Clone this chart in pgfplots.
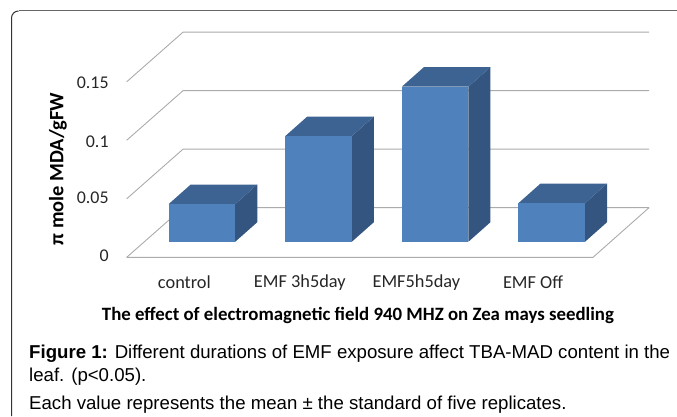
\documentclass[border=0pt]{standalone}
\usepackage{pgfplots}
\pgfplotsset{compat=1.18}
\usepackage{fontspec}
\setmainfont{Carlito}
\newfontfamily\capfont{Liberation Sans}
\definecolor{front}{HTML}{4F81BD}
\definecolor{topf}{HTML}{3D6392}
\definecolor{sidef}{HTML}{335580}
\definecolor{gridc}{HTML}{ABABAB}
\begin{document}
\begin{tikzpicture}[x=1bp,y=1bp]
\useasboundingbox (0,0) rectangle (677,416);
\draw[color=black!80,line width=1bp] (11.5,0) -- (11.5,398) arc[start angle=180,end angle=90,radius=7] ;
\draw[color=black!60,line width=1.4bp] (18.5,405.3) -- (677,405.3);
\begin{axis}[
  at={(126.7bp,158.7bp)},anchor=south west,
  scale only axis,width=522.3bp,height=225.6bp,
  xmin=-0.5,xmax=3.98,ymin=0,ymax=0.1928,
  axis lines=none,clip=false,
  every axis plot/.append style={forget plot},
]
% walls and floor
\addplot[gridc,line width=0.9bp] coordinates {(-0.5,0) (-0.017,0.0424) (3.98,0.0424)};
\addplot[gridc,line width=0.9bp] coordinates {(-0.5,0.05) (-0.017,0.0924) (3.98,0.0924)};
\addplot[gridc,line width=0.9bp] coordinates {(-0.5,0.1) (-0.017,0.1424) (3.98,0.1424)};
\addplot[gridc,line width=0.9bp] coordinates {(-0.5,0.15) (-0.017,0.1924) (3.98,0.1924)};
\addplot[gridc,line width=0.9bp] coordinates {(-0.5,0) (3.5,0) (3.98,0.0424)};
% control (front top 0.0455)
\addplot[draw=none,fill=sidef] coordinates {(0.431,0.0133) (0.62,0.03) (0.62,0.0622) (0.431,0.0455)} --cycle;
\addplot[draw=none,fill=topf] coordinates {(-0.14,0.0455) (0.049,0.0622) (0.62,0.0622) (0.431,0.0455)} --cycle;
\addplot[draw=none,fill=front] coordinates {(-0.14,0.0133) (0.431,0.0133) (0.431,0.0455) (-0.14,0.0455)} --cycle;
% EMF 3h5day (front top 0.1036)
\addplot[draw=none,fill=sidef] coordinates {(1.431,0.0133) (1.62,0.03) (1.62,0.1203) (1.431,0.1036)} --cycle;
\addplot[draw=none,fill=topf] coordinates {(0.86,0.1036) (1.049,0.1203) (1.62,0.1203) (1.431,0.1036)} --cycle;
\addplot[draw=none,fill=front] coordinates {(0.86,0.0133) (1.431,0.0133) (1.431,0.1036) (0.86,0.1036)} --cycle;
% EMF5h5day (front top 0.1458)
\addplot[draw=none,fill=sidef] coordinates {(2.431,0.0133) (2.62,0.03) (2.62,0.1625) (2.431,0.1458)} --cycle;
\addplot[draw=none,fill=topf] coordinates {(1.86,0.1458) (2.049,0.1625) (2.62,0.1625) (2.431,0.1458)} --cycle;
\addplot[draw=none,fill=front] coordinates {(1.86,0.0133) (2.431,0.0133) (2.431,0.1458) (1.86,0.1458)} --cycle;
% EMF Off (front top 0.0463)
\addplot[draw=none,fill=sidef] coordinates {(3.431,0.0133) (3.62,0.03) (3.62,0.063) (3.431,0.0463)} --cycle;
\addplot[draw=none,fill=topf] coordinates {(2.86,0.0463) (3.049,0.063) (3.62,0.063) (3.431,0.0463)} --cycle;
\addplot[draw=none,fill=front] coordinates {(2.86,0.0133) (3.431,0.0133) (3.431,0.0463) (2.86,0.0463)} --cycle;
% tick labels
\node[anchor=east,font=\fontsize{18}{20}\selectfont,text=black!85] at (axis cs:-0.625,0.0015) {0};
\node[anchor=east,font=\fontsize{18}{20}\selectfont,text=black!85] at (axis cs:-0.625,0.0505) {0.05};
\node[anchor=east,font=\fontsize{18}{20}\selectfont,text=black!85] at (axis cs:-0.625,0.149) {0.15};
\node[anchor=east,font=\fontsize{18}{20}\selectfont,text=black!85] at (axis cs:-0.625,0.099) {0.1};
\node[font=\fontsize{18.4}{20}\selectfont,text=black!85] at (axis cs:-0.005,-0.0215) {control};
\node[font=\fontsize{18.4}{20}\selectfont,text=black!85] at (axis cs:0.985,-0.0215) {EMF 3h5day};
\node[font=\fontsize{18.4}{20}\selectfont,text=black!85] at (axis cs:1.985,-0.0215) {EMF5h5day};
\node[font=\fontsize{18.4}{20}\selectfont,text=black!85] at (axis cs:2.985,-0.0215) {EMF Off};
\end{axis}
\node[font=\bfseries\fontsize{20.5}{22}\selectfont,rotate=90] at (58,247) {π mole MDA/gFW};
\node[font=\bfseries\fontsize{18.9}{20}\selectfont] at (358,101) {The effect of electromagnetic field 940 MHZ on Zea mays seedling};
\node[anchor=base west,font=\capfont\fontsize{18.7}{20}\selectfont,inner sep=0pt] at (29,58) {\textbf{Figure 1:} Different durations of EMF exposure affect TBA-MAD content in the};
\node[anchor=base west,font=\capfont\fontsize{18.7}{20}\selectfont,inner sep=0pt] at (29,35) {leaf. (p<0.05).};
\node[anchor=base west,font=\capfont\fontsize{18.7}{20}\selectfont,inner sep=0pt] at (29,7) {Each value represents the mean ± the standard of five replicates.};
\end{tikzpicture}
\end{document}
